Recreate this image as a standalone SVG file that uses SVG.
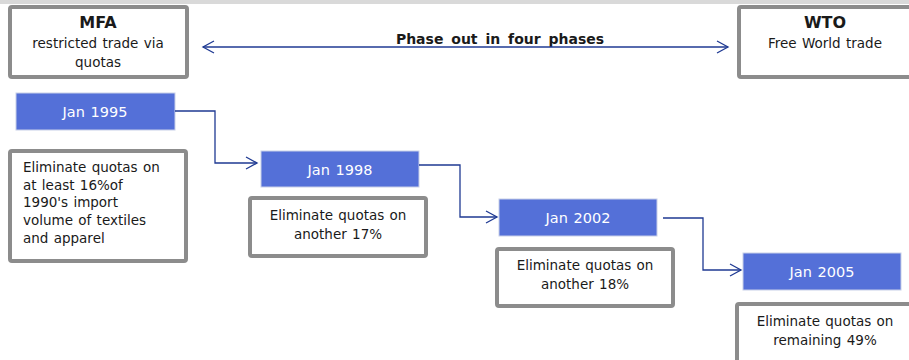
<svg xmlns="http://www.w3.org/2000/svg" width="909" height="360" viewBox="0 0 909 360">
<style>
text{font-family:"DejaVu Sans","Noto Sans",sans-serif;font-size:13.5px;fill:#1a1a1a;word-spacing:1px}
.gbox{fill:#fff;stroke:#8c8c8c;stroke-width:4}
.bbox{fill:#5470d8;stroke:#c8cfe8;stroke-width:1}
.bt{fill:#fff;text-anchor:middle;font-size:14.5px}
.c{text-anchor:middle}
.b{font-weight:bold;font-size:14px}
.h{font-size:16px}
.ln{fill:none;stroke:#1f3a93;stroke-width:1.3}
</style>
<defs>
<marker id="ah" markerWidth="14" markerHeight="14" refX="12" refY="7" orient="auto-start-reverse" markerUnits="userSpaceOnUse">
<path d="M1,1 L12,7 L1,13" fill="none" stroke="#1f3a93" stroke-width="1.3"/>
</marker>
</defs>
<rect x="0" y="0" width="909" height="4" fill="#d9d9d9"/>
<g id="mfa">
<rect class="gbox" x="10" y="7" width="177" height="70" rx="2"/>
<text class="c b h" x="98" y="28">MFA</text>
<text class="c" x="98" y="48">restricted trade via</text>
<text class="c" x="98" y="67">quotas</text>
</g>
<g id="wto">
<rect class="gbox" x="739" y="7" width="180" height="70" rx="2"/>
<text class="c b h" x="825" y="28">WTO</text>
<text class="c" x="825" y="48">Free World trade</text>
</g>
<g id="phase">
<text class="c b" x="500" y="44" style="word-spacing:3px">Phase out in four phases</text>
</g>
<g id="jan1995">
<rect class="bbox" x="16" y="93" width="159" height="37"/>
<text class="bt" x="95" y="117">Jan 1995</text>
</g>
<g id="note1995">
<rect class="gbox" x="10" y="151" width="176" height="110" rx="2"/>
<text x="23" y="172">Eliminate quotas on</text>
<text x="23" y="190">at least 16%of</text>
<text x="23" y="207">1990's import</text>
<text x="23" y="225">volume of textiles</text>
<text x="23" y="243">and apparel</text>
</g>
<g id="jan1998">
<rect class="bbox" x="261" y="151" width="158" height="36"/>
<text class="bt" x="340" y="175">Jan 1998</text>
</g>
<g id="note1998">
<rect class="gbox" x="250" y="198" width="176" height="58" rx="2"/>
<text class="c" x="338" y="220">Eliminate quotas on</text>
<text class="c" x="338" y="239">another 17%</text>
</g>
<g id="jan2002">
<rect class="bbox" x="499" y="199" width="158" height="37"/>
<text class="bt" x="578" y="223">Jan 2002</text>
</g>
<g id="note2002">
<rect class="gbox" x="497" y="249" width="176" height="57" rx="2"/>
<text class="c" x="585" y="270">Eliminate quotas on</text>
<text class="c" x="585" y="289">another 18%</text>
</g>
<g id="jan2005">
<rect class="bbox" x="743" y="253" width="158" height="37"/>
<text class="bt" x="822" y="277">Jan 2005</text>
</g>
<g id="note2005">
<rect class="gbox" x="737" y="304" width="180" height="70" rx="2"/>
<text class="c" x="825" y="326">Eliminate quotas on</text>
<text class="c" x="825" y="345">remaining 49%</text>
</g>
<g id="connectors">
<line class="ln" x1="203" y1="47" x2="728" y2="47" marker-start="url(#ah)" marker-end="url(#ah)"/>
<polyline class="ln" points="175,111 215,111 215,163 257,163" marker-end="url(#ah)"/>
<polyline class="ln" points="419,165 460,165 460,217 497,217" marker-end="url(#ah)"/>
<polyline class="ln" points="663,218 703,218 703,270 741,270" marker-end="url(#ah)"/>
</g>
</svg>
